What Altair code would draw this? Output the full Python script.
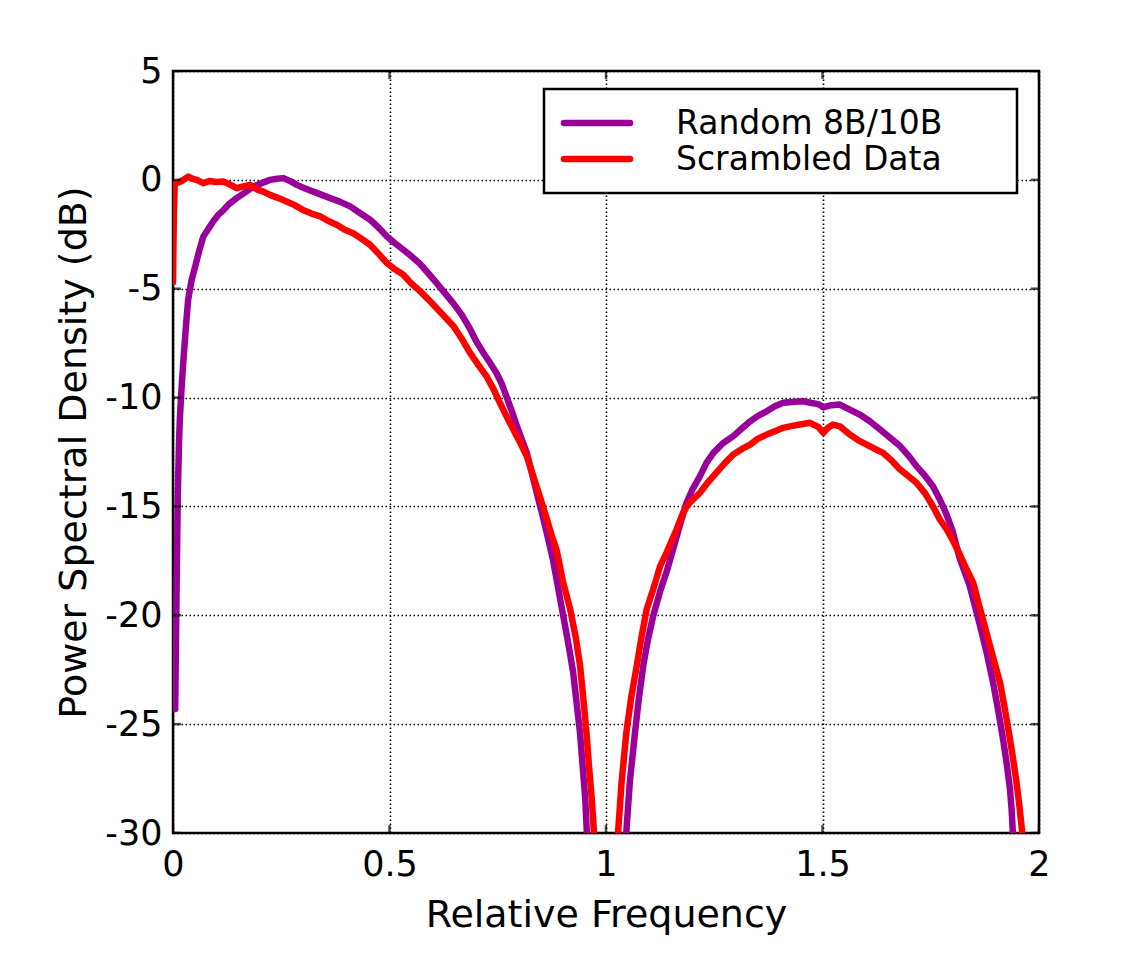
import altair as alt
import pandas as pd

series_names = ["Random 8B/10B", "Scrambled Data"]
series_colors = ["#990099", "#ff0000"]

# Random 8B/10B, first lobe
p1_f = [0.005, 0.008, 0.011, 0.014, 0.016, 0.020, 0.024, 0.030, 0.035, 0.043, 0.051, 0.060, 0.070, 0.080,
        0.093, 0.105, 0.116, 0.130, 0.147, 0.165, 0.185, 0.205, 0.224, 0.240, 0.255, 0.270, 0.286, 0.305,
        0.324, 0.345, 0.363, 0.385, 0.409, 0.430, 0.455, 0.475, 0.494, 0.512, 0.532, 0.550, 0.570, 0.590,
        0.609, 0.628, 0.647, 0.667, 0.686, 0.700, 0.717, 0.732, 0.747, 0.760, 0.770, 0.782, 0.794, 0.805,
        0.817, 0.828, 0.840, 0.852, 0.863, 0.878, 0.890, 0.901, 0.913, 0.924, 0.932, 0.940, 0.946, 0.952, 0.957]
p1_db = [-24.3, -19.3, -14.5, -12.0, -10.9, -9.5, -8.3, -6.7, -5.5, -4.6, -4.0, -3.3, -2.6, -2.3,
         -1.9, -1.6, -1.4, -1.1, -0.84, -0.6, -0.31, -0.15, 0.0, 0.05, 0.08, -0.05, -0.23, -0.4,
         -0.54, -0.7, -0.84, -1.0, -1.22, -1.5, -1.83, -2.2, -2.6, -2.9, -3.21, -3.5, -3.85, -4.3,
         -4.74, -5.2, -5.66, -6.2, -6.85, -7.4, -7.95, -8.4, -8.87, -9.4, -9.94, -10.6, -11.3, -11.9,
         -12.54, -13.4, -14.37, -15.3, -16.2, -17.5, -18.8, -20.0, -21.3, -22.6, -24.0, -25.4, -26.9, -28.4, -30.5]

# Random 8B/10B, second lobe
p2_f = [1.045, 1.055, 1.067, 1.076, 1.086, 1.097, 1.109, 1.125, 1.140, 1.155, 1.170, 1.186, 1.200, 1.217,
        1.232, 1.248, 1.270, 1.294, 1.315, 1.333, 1.350, 1.371, 1.390, 1.409, 1.430, 1.455, 1.475, 1.490,
        1.502, 1.520, 1.540, 1.563, 1.586, 1.610, 1.633, 1.656, 1.679, 1.700, 1.717, 1.737, 1.755, 1.771,
        1.785, 1.800, 1.817, 1.830, 1.840, 1.864, 1.880, 1.894, 1.906, 1.917, 1.926, 1.933, 1.937, 1.941]
p2_db = [-30.5, -27.67, -25.38, -23.8, -22.32, -21.1, -20.03, -18.9, -18.0, -16.97, -15.9, -14.83, -14.2, -13.61,
         -13.0, -12.54, -12.1, -11.77, -11.4, -11.09, -10.85, -10.63, -10.4, -10.24, -10.2, -10.17, -10.25, -10.3,
         -10.45, -10.35, -10.32, -10.55, -10.78, -11.1, -11.47, -11.85, -12.23, -12.7, -13.15, -13.6, -14.07, -14.68,
         -15.3, -16.1, -17.4, -18.1, -18.65, -20.49, -21.8, -23.09, -24.4, -25.69, -26.9, -27.98, -29.0, -30.5]

# Scrambled Data, first lobe
r1_f = [0.000, 0.002, 0.004, 0.009, 0.020, 0.035, 0.045, 0.055, 0.070, 0.085, 0.100, 0.116, 0.130, 0.147,
        0.162, 0.178, 0.195, 0.210, 0.224, 0.245, 0.262, 0.280, 0.300, 0.320, 0.340, 0.360, 0.378, 0.398,
        0.416, 0.435, 0.455, 0.475, 0.494, 0.512, 0.532, 0.550, 0.570, 0.590, 0.609, 0.628, 0.647, 0.667,
        0.686, 0.705, 0.724, 0.740, 0.755, 0.770, 0.786, 0.800, 0.817, 0.832, 0.848, 0.862, 0.875, 0.886,
        0.900, 0.917, 0.930, 0.940, 0.948, 0.955, 0.961, 0.967, 0.974]
r1_db = [-4.7, -1.5, -0.2, -0.15, -0.05, 0.15, 0.05, 0.0, -0.15, -0.05, -0.1, -0.08, -0.2, -0.38,
         -0.3, -0.23, -0.45, -0.55, -0.69, -0.85, -0.99, -1.15, -1.38, -1.55, -1.68, -1.9, -2.06, -2.3,
         -2.45, -2.7, -2.98, -3.4, -3.82, -4.1, -4.36, -4.75, -5.1, -5.5, -5.9, -6.3, -6.7, -7.3,
         -7.95, -8.5, -9.02, -9.6, -10.24, -10.85, -11.47, -12.0, -12.69, -13.6, -14.6, -15.5, -16.36, -17.0,
         -18.4, -19.7, -21.0, -22.3, -23.9, -25.4, -27.0, -28.4, -30.5]

# Scrambled Data, second lobe
r2_f = [1.026, 1.036, 1.047, 1.058, 1.071, 1.082, 1.094, 1.109, 1.125, 1.140, 1.163, 1.178, 1.190, 1.217,
        1.235, 1.255, 1.275, 1.294, 1.315, 1.333, 1.350, 1.371, 1.390, 1.409, 1.430, 1.448, 1.471, 1.490,
        1.502, 1.512, 1.524, 1.540, 1.563, 1.582, 1.602, 1.620, 1.640, 1.660, 1.679, 1.698, 1.717, 1.737,
        1.755, 1.771, 1.787, 1.802, 1.817, 1.833, 1.848, 1.864, 1.880, 1.895, 1.910, 1.922, 1.933, 1.941,
        1.948, 1.955, 1.964]
r2_db = [-30.5, -27.67, -25.38, -23.8, -22.32, -21.0, -19.72, -18.8, -17.74, -17.12, -16.06, -15.29, -14.9, -14.37,
         -13.9, -13.45, -13.0, -12.61, -12.35, -12.16, -11.9, -11.7, -11.55, -11.39, -11.3, -11.24, -11.16, -11.35,
         -11.62, -11.4, -11.24, -11.32, -11.7, -11.95, -12.16, -12.35, -12.54, -12.9, -13.3, -13.6, -13.91, -14.4,
         -14.99, -15.6, -16.06, -16.6, -17.2, -17.9, -18.5, -19.72, -20.9, -22.0, -23.09, -24.4, -25.69, -26.7,
         -27.67, -28.8, -30.5]

x_ticks = [0, 0.5, 1, 1.5, 2]
y_ticks = [5, 0, -5, -10, -15, -20, -25, -30]


def seg(f, db, name, part):
    return pd.DataFrame({"f": f, "db": db, "series": name, "part": part})


purple = pd.concat([seg(p1_f, p1_db, series_names[0], "a"), seg(p2_f, p2_db, series_names[0], "b")])
red = pd.concat([seg(r1_f, r1_db, series_names[1], "a"), seg(r2_f, r2_db, series_names[1], "b")])

W, H = 866, 762
FONT = "DejaVu Sans"

xscale = alt.Scale(domain=[0, 2], nice=False, zero=False)
yscale = alt.Scale(domain=[-30, 5], nice=False, zero=False)
cscale = alt.Scale(domain=series_names, range=series_colors)

x_axis = alt.Axis(values=x_ticks, labelExpr="'' + datum.value", title="Relative Frequency",
                  grid=True, ticks=False, domain=False, labelFontSize=35, titleFontSize=38,
                  labelPadding=14, labelFlush=False, titleX=W / 2, titleY=93, titleBaseline="alphabetic",
                  labelColor="black", titleColor="black", titleFontWeight="normal")
y_axis = alt.Axis(values=y_ticks, labelExpr="'' + datum.value", title="Power Spectral Density (dB)",
                  grid=True, ticks=False, domain=False, labelFontSize=35, titleFontSize=38, labelPadding=11,
                  labelFlush=False, titleX=-88, titleY=H / 2, titleBaseline="alphabetic", titleAngle=-90,
                  labelColor="black", titleColor="black", titleFontWeight="normal")


def line_layer(df):
    return alt.Chart(df).mark_line(strokeWidth=6.5, clip=True, strokeJoin="round", strokeCap="round").encode(
        x=alt.X("f:Q", scale=xscale, axis=x_axis),
        y=alt.Y("db:Q", scale=yscale, axis=y_axis),
        color=alt.Color("series:N", scale=cscale, legend=None),
        detail="part:N",
        order="f:Q",
    )


xt = pd.DataFrame({"v": x_ticks})
yt = pd.DataFrame({"v": y_ticks})

tick_style = dict(size=16, thickness=2.5, color="black", clip=True)
ticks_bottom = alt.Chart(xt).mark_tick(orient="vertical", **tick_style).encode(
    x=alt.X("v:Q", scale=xscale), y=alt.value(H))
ticks_top = alt.Chart(xt).mark_tick(orient="vertical", **tick_style).encode(
    x=alt.X("v:Q", scale=xscale), y=alt.value(0))
ticks_left = alt.Chart(yt).mark_tick(orient="horizontal", **tick_style).encode(
    y=alt.Y("v:Q", scale=yscale), x=alt.value(0))
ticks_right = alt.Chart(yt).mark_tick(orient="horizontal", **tick_style).encode(
    y=alt.Y("v:Q", scale=yscale), x=alt.value(W))

# legend box (layout only)
box_df = pd.DataFrame({"k": [0]})
legend_box = alt.Chart(box_df).mark_rect(fill="white", stroke="black", strokeWidth=2.5).encode(
    x=alt.value(371), x2=alt.value(844), y=alt.value(18), y2=alt.value(122))

legend_layers = [legend_box]
for i, (name, col) in enumerate(zip(series_names, series_colors)):
    ldf = pd.DataFrame({"series": [name]})
    ry = 52 + 36 * i
    legend_layers.append(
        alt.Chart(ldf).mark_rule(strokeWidth=6.5, strokeCap="round", color=col).encode(
            x=alt.value(391), x2=alt.value(457), y=alt.value(ry)))
    legend_layers.append(
        alt.Chart(ldf).mark_text(align="left", baseline="middle", font=FONT, fontSize=33, color="black").encode(
            x=alt.value(503), y=alt.value(ry + 1), text="series:N"))

chart = alt.layer(
    line_layer(purple), line_layer(red), ticks_bottom, ticks_top, ticks_left, ticks_right, *legend_layers
).properties(
    width=W, height=H,
    autosize=alt.AutoSizeParams(type="none"),
    padding={"left": 165, "top": 63, "right": 90, "bottom": 130},
    background="white",
).configure_view(
    stroke="black", strokeWidth=2.5
).configure_axis(
    gridColor="black", gridDash=[1.5, 2.5], gridWidth=1.6, gridOpacity=1,
    labelFont=FONT, titleFont=FONT,
)

chart.save("out.html", embed_options={"renderer": "svg", "actions": False})
